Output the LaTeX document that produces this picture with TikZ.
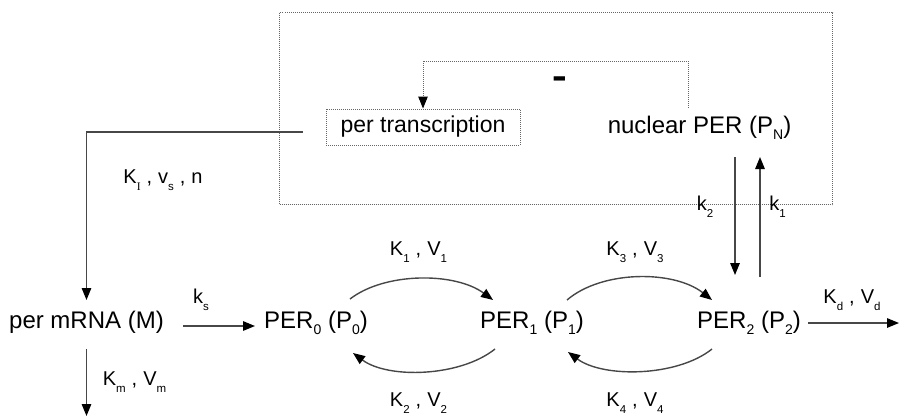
\documentclass[tikz,border=0pt]{standalone}
\usepackage{fontspec}
\setmainfont{Liberation Sans}
\newfontfamily\serifI{Liberation Serif}
\usetikzlibrary{arrows.meta}
\newcommand\msub[1]{\raisebox{-6pt}{\fontsize{14}{14}\selectfont #1}}
\newcommand\lsub[1]{\raisebox{-7.5pt}{\fontsize{11.5}{11.5}\selectfont #1}}
\newcommand\csep{\hspace{6pt},\hspace{6pt}}
\begin{document}
\begin{tikzpicture}[x=1pt,y=-1pt,
  main/.style={inner sep=0pt, anchor=base, font=\fontsize{24}{24}\selectfont},
  lab/.style={inner sep=0pt, anchor=base, font=\fontsize{20}{20}\selectfont},
  line/.style={draw=black!72, line width=1.4pt},
  arr/.style={line, -{Triangle[length=12pt,width=9.5pt,color=black]}},
  dots/.style={draw=black!60, line width=1pt, dash pattern=on 1pt off 1pt},
  darr/.style={dots, -{Triangle[length=12pt,width=9.5pt,color=black]}}
]
\useasboundingbox (0,0) rectangle (899,416);
% nucleus
\node[dots, minimum width=553pt, minimum height=192pt, inner sep=0pt, anchor=north west] (nucleus) at (279,12) {};
% main nodes
\node[main] (mrna) at (86.5,328) {per mRNA (M)};
\node[main] (p0) at (316,328) {PER\msub{0} (P\msub{0})};
\node[main] (p1) at (532,328) {PER\msub{1} (P\msub{1})};
\node[main] (p2) at (749,328) {PER\msub{2} (P\msub{2})};
\node[main] (pn) at (699.5,133) {nuclear PER (P\msub{N})};
\node[dots, inner sep=0pt, minimum width=194pt, minimum height=36pt, font=\fontsize{23}{23}\selectfont] (trans) at (423,127) {per transcription};
% labels
\node[lab] (kI) at (163,183) {K\lsub{\serifI I}\csep v\lsub{s}\csep n};
\node[lab] (ks) at (201,303) {k\lsub{s}};
\node[lab] (km) at (134.5,385) {K\lsub{m}\csep V\lsub{m}};
\node[lab] (l1) at (418.5,255) {K\lsub{1}\csep V\lsub{1}};
\node[lab] (l2) at (418.5,406) {K\lsub{2}\csep V\lsub{2}};
\node[lab] (l3) at (635,255) {K\lsub{3}\csep V\lsub{3}};
\node[lab] (l4) at (635,406) {K\lsub{4}\csep V\lsub{4}};
\node[lab] (ld) at (852,303) {K\lsub{d}\csep V\lsub{d}};
\node[lab] (lk2) at (705,210) {k\lsub{2}};
\node[lab] (lk1) at (777.5,210) {k\lsub{1}};
\node[font=\bfseries\fontsize{24}{24}\selectfont, inner sep=0pt] (minus) at (560,84) {\scalebox{0.95}[1.8]{–}};
% connectors
\coordinate (mdeg) at (86.5,416);
\coordinate (pdeg) at (899,323);
\draw[darr] ([shift={(-11.5,-25)}]pn.base) -- ++(0,-47) -| (trans.north);
\draw[arr] ([shift={(-23,5)}]trans.west) -| ([shift={(0,-28)}]mrna.base);
\draw[arr] ([shift={(0,21)}]mrna.base) -- (mdeg);
\draw[arr] ([shift={(96.5,-2)}]mrna.base) -- ([shift={(-61,-2)}]p0.base);
\draw[arr] ([shift={(34,-29)}]p0.base) .. controls +(35,-27) and +(-38,-28) .. ([shift={(-39,-28)}]p1.base);
\draw[arr] ([shift={(-37,21)}]p1.base) .. controls +(-35,28) and +(35,26) .. ([shift={(37,25)}]p0.base);
\draw[arr] ([shift={(35,-28)}]p1.base) .. controls +(35,-30) and +(-38,-30) .. ([shift={(-37,-28)}]p2.base);
\draw[arr] ([shift={(-37,21)}]p2.base) .. controls +(-35,28) and +(35,26) .. ([shift={(36,24)}]p1.base);
\draw[arr] ([shift={(59,-5)}]p2.base) -- (pdeg);
\draw[arr] ([shift={(35.5,24)}]pn.base) -- ([shift={(-14,-53)}]p2.base);
\draw[arr] ([shift={(11,-51)}]p2.base) -- ([shift={(60.5,24)}]pn.base);
\end{tikzpicture}
\end{document}
